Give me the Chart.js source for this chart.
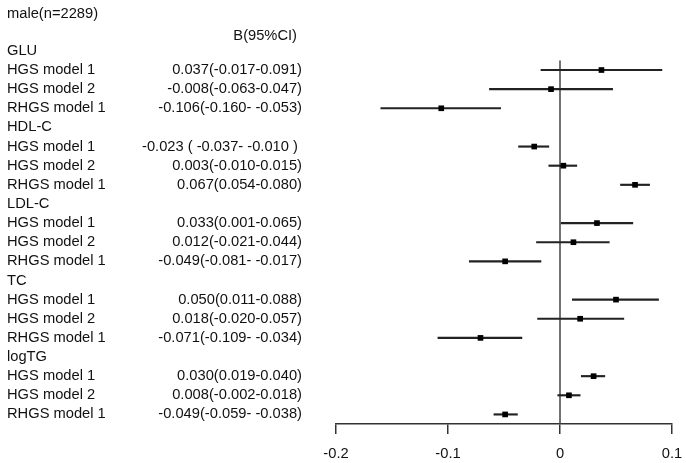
<!DOCTYPE html>
<html>
<head>
<meta charset="utf-8">
<script src="https://cdn.jsdelivr.net/npm/chart.js@4.4.1/dist/chart.umd.min.js"></script>
<style>
  html, body { margin: 0; padding: 0; background: #fff; }
  #wrap { width: 686px; height: 463px; }
</style>
</head>
<body>
<div id="wrap"><canvas id="forest"></canvas></div>
<script>
const title = "male(n=2289)";
const ciHeader = "B(95%CI)";
const groups = ["GLU", "HDL-C", "LDL-C", "TC", "logTG"];
const models = ["HGS model 1", "HGS model 2", "RHGS model 1"];
const estimates = [0.037, -0.008, -0.106, -0.023, 0.003, 0.067, 0.033, 0.012, -0.049, 0.050, 0.018, -0.071, 0.030, 0.008, -0.049];
const lower = [-0.017, -0.063, -0.160, -0.037, -0.010, 0.054, 0.001, -0.021, -0.081, 0.011, -0.020, -0.109, 0.019, -0.002, -0.059];
const upper = [0.091, 0.047, -0.053, -0.010, 0.015, 0.080, 0.065, 0.044, -0.017, 0.088, 0.057, -0.034, 0.040, 0.018, -0.038];
const ciLabels = [
    "0.037(-0.017-0.091)", "-0.008(-0.063-0.047)", "-0.106(-0.160- -0.053)",
    "-0.023 ( -0.037- -0.010 ) ", "0.003(-0.010-0.015)", "0.067(0.054-0.080)",
    "0.033(0.001-0.065)", "0.012(-0.021-0.044)", "-0.049(-0.081- -0.017)",
    "0.050(0.011-0.088)", "0.018(-0.020-0.057)", "-0.071(-0.109- -0.034)",
    "0.030(0.019-0.040)", "0.008(-0.002-0.018)", "-0.049(-0.059- -0.038)"
];
const xTicks = [-0.2, -0.1, 0, 0.1];

// row index of each estimate: group header takes one row above its 3 models
const rowOf = (i) => Math.floor(i / 3) * 4 + (i % 3);

const ciData = estimates.map((e, i) => ({ x: [lower[i], upper[i]], y: rowOf(i) }));
const pointData = estimates.map((e, i) => ({ x: e, y: rowOf(i) }));

const FONT = "14.7px 'Liberation Sans', Arial, sans-serif";
const INK = "#111";

// texts on the left and the zero line
const forestText = {
    id: "forestText",
    afterDraw(chart) {
        const ctx = chart.ctx;
        const y = chart.scales.y;
        ctx.save();
        ctx.font = FONT;
        ctx.fillStyle = INK;
        ctx.textBaseline = "middle";
        ctx.textAlign = "left";
        ctx.fillText(title, 7, y.getPixelForValue(-2.95));
        groups.forEach((g, gi) => {
            ctx.fillText(g, 7, y.getPixelForValue(gi * 4 - 1));
        });
        estimates.forEach((e, i) => {
            ctx.fillText(models[i % 3], 7, y.getPixelForValue(rowOf(i)));
        });
        ctx.textAlign = "right";
        ctx.fillText(ciHeader, 297, y.getPixelForValue(-1.8));
        ciLabels.forEach((t, i) => {
            ctx.fillText(t, 302, y.getPixelForValue(rowOf(i)));
        });
        ctx.restore();
    },
    beforeDatasetsDraw(chart) {
        const ctx = chart.ctx;
        const x0 = chart.scales.x.getPixelForValue(0);
        ctx.save();
        ctx.strokeStyle = "#444";
        ctx.lineWidth = 1.5;
        ctx.beginPath();
        ctx.moveTo(x0, chart.scales.y.getPixelForValue(-0.5));
        ctx.lineTo(x0, chart.chartArea.bottom);
        ctx.stroke();
        ctx.restore();
    }
};

new Chart(document.getElementById("forest"), {
    type: "bar",
    data: {
        datasets: [
            {
                type: "bar",
                indexAxis: "y",
                data: ciData,
                backgroundColor: "#222",
                borderWidth: 0,
                barThickness: 1.5,
                order: 2,
            },
            {
                type: "scatter",
                data: pointData,
                pointStyle: "rect",
                pointRadius: 4,
                pointBackgroundColor: "#000",
                pointBorderWidth: 0,
                order: 1,
            },
        ],
    },
    options: {
        responsive: true,
        maintainAspectRatio: false,
        animation: false,
        layout: {
            padding: { left: 336, right: 14, top: 0, bottom: 0 },
        },
        scales: {
            x: {
                type: "linear",
                min: -0.2,
                max: 0.1,
                offset: false,
                afterBuildTicks: (scale) => {
                    scale.ticks = xTicks.map((v) => ({ value: v }));
                },
                afterFit: (scale) => {
                    scale.height = 39;
                    scale.paddingLeft = 0;
                    scale.paddingRight = 0;
                },
                ticks: {
                    color: INK,
                    padding: 11,
                    font: { family: "'Liberation Sans', Arial, sans-serif", size: 14.7 },
                    callback: (v) => String(v),
                },
                grid: {
                    offset: false,
                    drawOnChartArea: false,
                    drawTicks: true,
                    tickLength: 10,
                    color: "#333",
                    lineWidth: 1.5,
                },
                border: { display: true, color: "#333", width: 1.5 },
            },
            y: {
                type: "linear",
                reverse: true,
                min: -3.45,
                max: 18.5,
                offset: false,
                grid: { offset: false },
                display: false,
            },
        },
        plugins: {
            legend: { display: false },
            tooltip: { enabled: false },
        },
    },
    plugins: [forestText],
});
</script>
</body>
</html>
